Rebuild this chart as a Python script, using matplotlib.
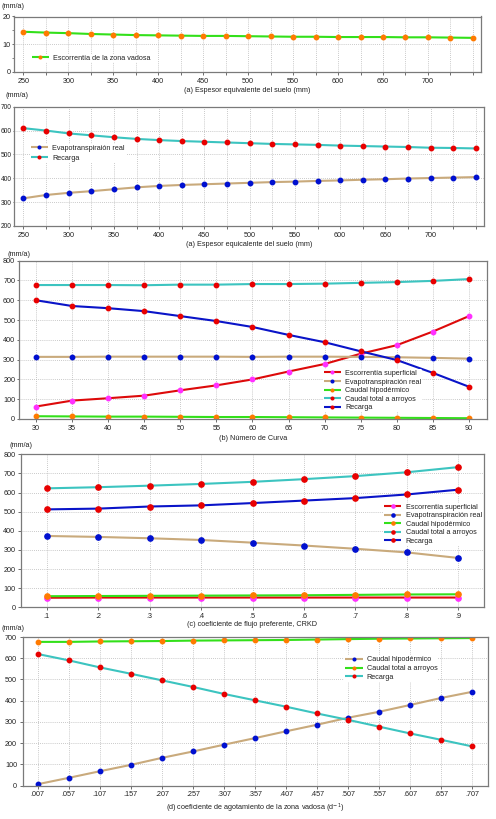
import matplotlib
matplotlib.use("Agg")
import matplotlib.pyplot as plt
from matplotlib.ticker import MultipleLocator

plt.rcParams['font.family'] = ['Liberation Sans', 'DejaVu Sans']

# ---------------- data ----------------
# Panel (a) top
esp_x = [250, 275, 300, 325, 350, 375, 400, 425, 450, 475, 500, 525, 550, 575,
         600, 625, 650, 675, 700, 725, 750]
esp_ticklabels = ['250', '', '300', '', '350', '', '400', '', '450', '', '500', '',
                  '550', '', '600', '', '650', '', '700', '', '']
esc_vadosa = [14.5, 14.2, 14.0, 13.7, 13.5, 13.3, 13.2, 13.1, 13.0, 13.0, 12.9, 12.8,
              12.7, 12.7, 12.6, 12.6, 12.6, 12.5, 12.5, 12.4, 12.3]

# Panel (a) second
a_recarga = [610, 600, 588, 580, 572, 565, 560, 556, 553, 550, 547, 544, 542, 540,
             537, 535, 533, 531, 528, 527, 525]
a_etr = [316, 330, 339, 346, 354, 362, 368, 372, 375, 378, 381, 384, 386, 389,
         391, 394, 396, 399, 401, 403, 405]

# Panel (b)
cn_x = [30, 35, 40, 45, 50, 55, 60, 65, 70, 75, 80, 85, 90]
b_esc = [63, 93, 105, 118, 145, 170, 200, 240, 278, 330, 373, 442, 520]
b_etr = [314, 314, 315, 315, 315, 315, 314, 315, 315, 314, 312, 309, 305]
b_hipo = [14, 13, 12, 12, 11, 10, 10, 9, 8, 7, 6, 5, 4]
b_total = [677, 677, 677, 676, 679, 679, 682, 682, 684, 688, 692, 698, 707]
b_recarga = [600, 571, 560, 545, 520, 495, 465, 425, 388, 342, 298, 233, 163]

# Panel (c)
crkd_x = [0.1, 0.2, 0.3, 0.4, 0.5, 0.6, 0.7, 0.8, 0.9]
crkd_ticklabels = ['.1', '.2', '.3', '.4', '.5', '.6', '.7', '.8', '.9']
c_esc = [50, 51, 51, 51, 51, 51, 51, 51, 51]
c_etr = [373, 368, 361, 352, 338, 323, 306, 287, 258]
c_hipo = [58, 59, 60, 61, 62, 63, 65, 67, 68]
c_total = [622, 628, 636, 645, 656, 670, 686, 706, 733]
c_recarga = [512, 516, 527, 533, 545, 558, 571, 590, 615]

# Panel (d)
ag_x = [0.007, 0.057, 0.107, 0.157, 0.207, 0.257, 0.307, 0.357, 0.407, 0.457,
        0.507, 0.557, 0.607, 0.657, 0.707]
ag_ticklabels = ['.007', '.057', '.107', '.157', '.207', '.257', '.307', '.357',
                 '.407', '.457', '.507', '.557', '.607', '.657', '.707']
d_hipo = [7, 37, 68, 98, 131, 161, 193, 224, 256, 287, 320, 348, 380, 413, 442]
d_total = [677, 677, 679, 680, 681, 683, 684, 685, 686, 688, 690, 692, 693, 694, 695]
d_recarga = [620, 590, 557, 527, 496, 465, 432, 402, 372, 340, 310, 278, 246, 216, 185]

# ---------------- styles ----------------
GREEN, ORANGE = '#33e01a', '#ff7a00'
CYAN, RED = '#3cc4c0', '#e80000'
TAN, BLUE = '#c9aa7c', '#0010d0'
DBLUE = '#0a14c8'
LRED, MAG = '#dd0a0a', '#ff30ff'
FS = 5.2
LW = 1.5
MS = 3.2

W, H = 496, 819
fig = plt.figure(figsize=(W / 100, H / 100), dpi=100)


def make_ax(l, r, t, b):
    ax = fig.add_axes([l / W, 1 - b / H, (r - l) / W, (b - t) / H])
    for s in ax.spines.values():
        s.set_color('#7a7a7a')
        s.set_linewidth(0.9)
    ax.tick_params(labelsize=FS, length=2, width=0.6, color='#555555', pad=2,
                   labelcolor='#222222')
    ax.grid(True, color='#b8b8b8', linestyle=(0, (1, 1.5)), linewidth=0.6)
    ax.set_axisbelow(True)
    return ax


def series(ax, x, y, lc, mc, label, ms=MS):
    ax.plot(x, y, color=lc, lw=LW, marker='o', ms=ms, mfc=mc, mec=mc,
            label=label, solid_capstyle='butt')


def leg(ax, x, y, spacing=0.25):
    lg = ax.legend(loc='center left', bbox_to_anchor=(x, y), fontsize=FS,
                   frameon=True, borderaxespad=0, borderpad=0.1, handlelength=2.4,
                   handletextpad=0.6, labelspacing=spacing, markerscale=0.6)
    lg.get_frame().set_facecolor('white')
    lg.get_frame().set_edgecolor('none')
    lg.get_frame().set_alpha(1)
    for t in lg.get_texts():
        t.set_color('#222222')


def unit(x, y):
    fig.text(x / W, 1 - y / H, '(mm/a)', fontsize=FS, ha='left', va='center',
             color='#222222')


def xlab(ax_l, ax_r, y, s):
    fig.text((ax_l + ax_r) / 2 / W, 1 - y / H, s, fontsize=FS, ha='center',
             va='center', color='#222222')


# ---- Panel 1 ----
ax1 = make_ax(14, 481, 16.5, 72)
series(ax1, esp_x, esc_vadosa, GREEN, ORANGE, 'Escorrentía de la zona vadosa')
ax1.set_xlim(239.6, 759)
ax1.set_ylim(0, 20)
ax1.set_yticks([0, 10, 20])
ax1.yaxis.set_minor_locator(MultipleLocator(5))
ax1.tick_params(axis='y', which='minor', length=1.5, width=0.5, color='#555555')
ax1.tick_params(axis='y', which='major', length=1.5, pad=1)
ax1.set_xticks(esp_x)
ax1.set_xticklabels(esp_ticklabels)
leg(ax1, 0.036, 0.25)
unit(2, 6)
xlab(14, 481, 91, '(a) Espesor equivalente del suelo (mm)')

# ---- Panel 2 ----
ax2 = make_ax(14, 484, 106.7, 226)
series(ax2, esp_x, a_etr, TAN, BLUE, 'Evapotranspiraión real')
series(ax2, esp_x, a_recarga, CYAN, RED, 'Recarga')
ax2.set_xlim(239.6, 759)
ax2.set_ylim(200, 700)
ax2.set_yticks(range(200, 701, 100))
ax2.tick_params(axis='y', length=1, pad=0.6, labelsize=4.8)
ax2.set_xticks(esp_x)
ax2.set_xticklabels(esp_ticklabels)
leg(ax2, 0.034, 0.61, spacing=0.45)
unit(6, 95.5)
xlab(14, 484, 245, '(a) Espesor equicalente del suelo (mm)')

# ---- Panel 3 ----
ax3 = make_ax(18.7, 487, 260.7, 419)
series(ax3, cn_x, b_esc, LRED, MAG, 'Escorrentía superficial')
series(ax3, cn_x, b_etr, TAN, BLUE, 'Evapotranspiración real')
series(ax3, cn_x, b_hipo, GREEN, ORANGE, 'Caudal hipodérmico')
series(ax3, cn_x, b_total, CYAN, RED, 'Caudal total a arroyos')
series(ax3, cn_x, b_recarga, DBLUE, RED, 'Recarga')
ax3.set_xlim(27.6, 92.5)
ax3.set_ylim(0, 800)
ax3.set_yticks(range(0, 801, 100))
ax3.tick_params(axis='y', length=1.5, pad=1)
ax3.set_xticks(cn_x)
leg(ax3, 0.65, 0.179, spacing=0.22)
unit(8, 254)
xlab(18.7, 487, 439, '(b) Número de Curva')

# ---- Panel 4 ----
ax4 = make_ax(21, 484, 454.3, 607.3)
series(ax4, crkd_x, c_esc, LRED, MAG, 'Escorrentía superficial', ms=3.8)
series(ax4, crkd_x, c_etr, TAN, BLUE, 'Evapotranspiración real', ms=3.8)
series(ax4, crkd_x, c_hipo, GREEN, ORANGE, 'Caudal hipodérmico', ms=3.8)
series(ax4, crkd_x, c_total, CYAN, RED, 'Caudal total a arroyos', ms=3.8)
series(ax4, crkd_x, c_recarga, DBLUE, RED, 'Recarga', ms=3.8)
ax4.set_xlim(0.05, 0.95)
ax4.set_ylim(0, 800)
ax4.set_yticks(range(0, 801, 100))
ax4.set_xticks(crkd_x)
ax4.set_xticklabels(crkd_ticklabels)
leg(ax4, 0.7825, 0.542, spacing=0.2)
unit(10, 445.7)
xlab(21, 484, 624, '(c) coeficiente de flujo preferente, CRKD')

# ---- Panel 5 ----
ax5 = make_ax(22.7, 487.7, 637, 785.7)
series(ax5, ag_x, d_hipo, TAN, BLUE, 'Caudal hipodérmico')
series(ax5, ag_x, d_total, GREEN, ORANGE, 'Caudal total a arroyos')
series(ax5, ag_x, d_recarga, CYAN, RED, 'Recarga')
ax5.set_xlim(-0.0172, 0.732)
ax5.set_ylim(0, 700)
ax5.set_yticks(range(0, 701, 100))
ax5.set_xticks(ag_x)
ax5.set_xticklabels(ag_ticklabels)
leg(ax5, 0.692, 0.788, spacing=0.25)
unit(2, 629)
xlab(22.7, 487.7, 808, '(d) coeficiente de agotamiento de la zona vadosa (d$^{-1}$)')

fig.savefig('out.png', dpi=100)
